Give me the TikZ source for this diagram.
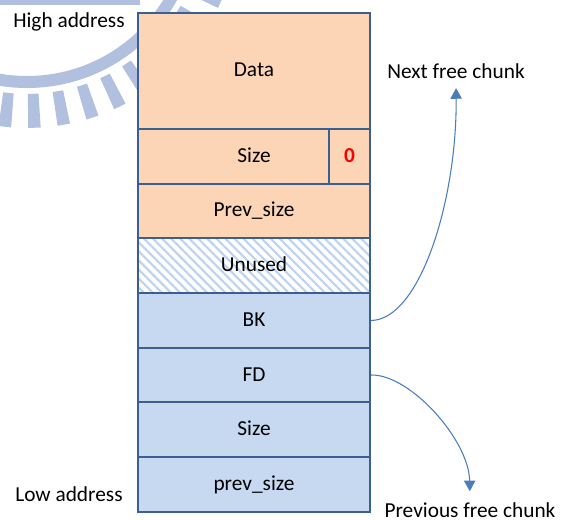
\documentclass[tikz,border=0pt]{standalone}
\usepackage{fontspec}
\setmainfont{Carlito}
\usetikzlibrary{patterns.meta,arrows.meta}
\definecolor{peach}{RGB}{251,213,181}
\definecolor{cellblue}{RGB}{198,217,241}
\definecolor{edge}{RGB}{60,95,145}
\definecolor{linkblue}{RGB}{74,126,187}
\definecolor{crest}{RGB}{176,192,222}
\definecolor{hatchblue}{RGB}{192,211,238}
\begin{document}
\begin{tikzpicture}[x=0.75pt,y=-0.75pt,
  txt/.style={font=\fontsize{16}{19}\selectfont},
  cell/.style={txt,draw=edge,line width=1.5pt,minimum width=174pt,anchor=north west,
               inner sep=0pt,text height=0.95em,text depth=0.05em},
  lbl/.style={txt,inner sep=0pt,anchor=base},
  link/.style={draw=linkblue,line width=0.8pt,-{Triangle[width=8.5pt,length=8pt]}}]
\useasboundingbox (0,0) rectangle (564,520);
\fill[white] (0,0) rectangle (564,520);

% faint emblem in the top left corner
\begin{scope}
  \clip (0,0) rectangle (564,520);
  \fill[crest] (0,0) rectangle (140,5);
  \fill[crest,even odd rule] (27,-84) circle[radius=129pt] (27,-84) circle[radius=120pt];
  \foreach \a in {16,24,...,104}
    \fill[crest] ([shift={(27,-84)}]{\a-1.7}:178) -- ([shift={(27,-84)}]{\a+1.7}:178)
      -- ([shift={(27,-84)}]{\a+1.7}:212) -- ([shift={(27,-84)}]{\a-1.7}:212) -- cycle;
\end{scope}

% chunk fields, from the top (high address) down
\node[cell,fill=peach,minimum height=87pt]    (data)   at (137,12)  {Data};
\node[cell,fill=peach,minimum height=41.25pt] (size)   at (137,128) {Size};
\node[cell,fill=peach,minimum width=30.75pt,minimum height=41.25pt,anchor=north east,
      text=red,font=\fontsize{16}{19}\selectfont\bfseries] (flag) at (size.north east) {0};
\node[cell,fill=peach,minimum height=40.5pt]  (psize)  at (137,183) {Prev\_size};
\node[cell,pattern={Lines[angle=-45,distance=4.8pt,line width=1.6pt]},pattern color=hatchblue,
      minimum height=41.25pt] (unused) at (137,237) {Unused};
\node[cell,fill=cellblue,minimum height=41.25pt] (bk)    at (137,292) {BK};
\node[cell,fill=cellblue,minimum height=40.5pt]  (fd)    at (137,347) {FD};
\node[cell,fill=cellblue,minimum height=41.25pt] (fsize) at (137,401) {Size};
\node[cell,fill=cellblue,minimum height=41.25pt] (fprev) at (137,456) {prev\_size};

% side labels
\node[lbl] (high) at (69,28)  {High address};
\node[lbl] (low)  at (69,501) {Low address};
\node[lbl] (next) at (456,79) {Next free chunk};
\node[lbl] (prev) at (470,517) {Previous free chunk};

% list links
\draw[link,shorten >=6.5pt] (bk.east) .. controls (420,320) and (457,200) .. (next.south);
\draw[link,shorten >=8pt] (fd.east) .. controls (410,374) and (469,440) .. (prev.north);
\end{tikzpicture}
\end{document}
